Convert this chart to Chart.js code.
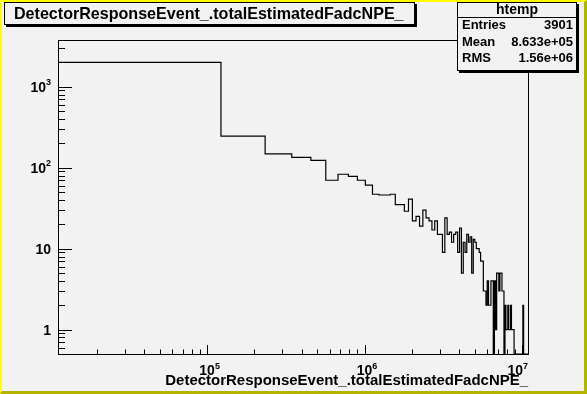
<!DOCTYPE html>
<html>
<head>
<meta charset="utf-8">
<script src="https://cdn.jsdelivr.net/npm/chart.js@4.4.1/dist/chart.umd.min.js"></script>
<style>
  html, body { margin: 0; padding: 0; background: #f2f2f2; }
  canvas { display: block; }
</style>
</head>
<body>
<div style="width:587px;height:394px"><canvas id="histCanvas" width="587" height="394"></canvas></div>
<script>
// histogram "htemp" : 100 equal bins, log x / log y
const histName = 'htemp';
const varName = 'DetectorResponseEvent_.totalEstimatedFadcNPE_';
const binLow = 1.13e4;
const binWidth = 1.112e5;
const counts = [
  2000, 246, 148, 134, 123, 70, 83, 78, 70, 61,
  47, 46, 46, 47, 35, 35, 29, 41, 22, 25,
  19, 30, 24, 22, 17, 22, 15, 15, 9, 24,
  15, 16, 12, 15, 16, 9, 18, 5, 12, 9,
  15, 12, 14, 5, 13, 12, 10, 10, 9, 7,
  7, 3, 3, 2, 4, 2, 2, 4, 4, 0,
  4, 1, 5, 5, 3, 5, 5, 3, 3, 0,
  2, 1, 1, 2, 1, 1, 2, 1, 1, 1,
  0, 0, 0, 0, 0, 0, 0, 0, 0, 0,
  0, 2, 0, 0, 0, 0, 0, 0, 0, 0
];
const statLabels = ['Entries', 'Mean', 'RMS'];
const statValues = ['3901', '8.633e+05', '1.56e+06'];
const xMin = 1.13e4;
const xMax = 1.092e7;
const yMin = 0.5;
const yMax = 3780;
const xLabelExps = [5, 6, 7];
const yLabelExps = [0, 1, 2, 3];

const points = counts.map((c, i) => ({ x: binLow + i * binWidth, y: c > 0 ? c : yMin }));
points.push({ x: binLow + counts.length * binWidth, y: points[points.length - 1].y });

const FONT = '"Liberation Sans", Arial, Helvetica, sans-serif';
const PAD = '#f2f2f2';

function fitSize(ctx, text, width) {
    ctx.font = 'bold 100px ' + FONT;
    return 100 * width / ctx.measureText(text).width;
}

// "1", "10", "10^n" label; x is the centre of the base (or its right edge)
function powLabel(ctx, exp, x, y, align, size, supSize, limit) {
    let base, sup = '';
    if (exp === 0) base = '1';
    else if (exp === 1) base = '10';
    else { base = '10'; sup = String(exp); }
    ctx.font = 'bold ' + size + 'px ' + FONT;
    const wb = ctx.measureText(base).width;
    ctx.font = 'bold ' + supSize + 'px ' + FONT;
    const ws = sup ? ctx.measureText(sup).width : 0;
    let x0 = align === 'right' ? x - wb - ws : x - wb / 2;
    if (limit && x0 + wb + ws > limit) x0 = limit - wb - ws;
    ctx.textAlign = 'left';
    ctx.font = 'bold ' + size + 'px ' + FONT;
    ctx.fillText(base, x0, y);
    if (sup) {
        ctx.font = 'bold ' + supSize + 'px ' + FONT;
        ctx.fillText(sup, x0 + wb, y - size * 0.45);
    }
}

function shadowBox(ctx, x1, y1, x2, y2) {
    ctx.fillStyle = '#000';
    ctx.fillRect(x1 + 2, y2, x2 - x1, 2);
    ctx.fillRect(x2, y1 + 2, 2, y2 - y1);
    ctx.fillStyle = PAD;
    ctx.fillRect(x1, y1, x2 - x1, y2 - y1);
    ctx.strokeStyle = '#000';
    ctx.lineWidth = 1;
    ctx.strokeRect(x1 + 0.5, y1 + 0.5, x2 - x1 - 1, y2 - y1 - 1);
}

const rootStyle = {
    id: 'rootStyle',
    beforeDraw(chart) {
        const ctx = chart.ctx;
        const W = chart.width, H = chart.height;
        ctx.save();
        ctx.fillStyle = '#ffff00';
        ctx.fillRect(0, 0, W, H);
        ctx.fillStyle = '#b4b400';
        ctx.beginPath();
        ctx.moveTo(W, 0); ctx.lineTo(W, H); ctx.lineTo(0, H);
        ctx.lineTo(2, H - 3); ctx.lineTo(W - 3, H - 3); ctx.lineTo(W - 3, 2);
        ctx.closePath();
        ctx.fill();
        ctx.fillStyle = PAD;
        ctx.fillRect(2, 2, W - 5, H - 5);
        ctx.restore();
    },
    afterDraw(chart) {
        const ctx = chart.ctx;
        const a = chart.chartArea;
        const xs = chart.scales.x, ys = chart.scales.y;
        ctx.save();
        ctx.strokeStyle = '#000';
        ctx.fillStyle = '#000';
        ctx.lineWidth = 1;
        // frame
        ctx.strokeRect(Math.round(a.left) + 0.5, Math.round(a.top) + 0.5,
            Math.round(a.right - a.left), Math.round(a.bottom - a.top));

        // y ticks (inward)
        ctx.beginPath();
        for (let e = -1; e <= 4; e++) {
            for (let m = 1; m <= 9; m++) {
                const v = m * Math.pow(10, e);
                if (v < yMin || v > yMax) continue;
                const py = Math.round(ys.getPixelForValue(v)) + 0.5;
                const len = m === 1 ? 14 : 7;
                ctx.moveTo(a.left, py);
                ctx.lineTo(a.left + len, py);
            }
        }
        // x ticks (inward)
        for (let e = 3; e <= 7; e++) {
            for (let m = 1; m <= 9; m++) {
                const v = m * Math.pow(10, e);
                if (v < xMin || v > xMax) continue;
                const px = Math.round(xs.getPixelForValue(v)) + 0.5;
                const len = m === 1 ? 9 : 4.5;
                ctx.moveTo(px, a.bottom);
                ctx.lineTo(px, a.bottom - len);
            }
        }
        ctx.stroke();

        // tick labels
        ctx.textBaseline = 'alphabetic';
        yLabelExps.forEach(e => {
            const py = ys.getPixelForValue(Math.pow(10, e));
            powLabel(ctx, e, 51, py + 5, 'right', 14, 9);
        });
        xLabelExps.forEach(e => {
            const px = xs.getPixelForValue(Math.pow(10, e));
            powLabel(ctx, e, px, 375, 'center', 14, 9, a.right);
        });

        // x axis title
        let fs = fitSize(ctx, varName, 363);
        ctx.font = 'bold ' + fs + 'px ' + FONT;
        ctx.textAlign = 'right';
        ctx.fillText(varName, a.right, 385);

        // title box
        shadowBox(ctx, 4, 2, 415, 25);
        fs = fitSize(ctx, varName, 390);
        ctx.fillStyle = '#000';
        ctx.font = 'bold ' + fs + 'px ' + FONT;
        ctx.textAlign = 'left';
        ctx.fillText(varName, 14, 19);

        // stats box
        shadowBox(ctx, 457, 2, 577, 71);
        ctx.strokeStyle = '#000';
        ctx.beginPath();
        ctx.moveTo(457, 17.5);
        ctx.lineTo(577, 17.5);
        ctx.stroke();
        ctx.fillStyle = '#000';
        ctx.font = 'bold 14px ' + FONT;
        ctx.textAlign = 'center';
        ctx.fillText(histName, 517, 14);
        ctx.font = 'bold 13px ' + FONT;
        statLabels.forEach((lab, i) => {
            const yy = 29 + i * 16.5;
            ctx.textAlign = 'left';
            ctx.fillText(lab, 462, yy);
            ctx.textAlign = 'right';
            ctx.fillText(statValues[i], 573, yy);
        });
        ctx.restore();
    }
};

new Chart(document.getElementById('histCanvas'), {
    type: 'line',
    data: {
        datasets: [{
            label: histName,
            data: points,
            stepped: 'before',
            borderColor: '#000',
            borderWidth: 1.2,
            pointRadius: 0,
            fill: false,
            tension: 0
        }]
    },
    options: {
        responsive: false,
        animation: false,
        devicePixelRatio: 1,
        layout: { padding: { left: 58, top: 40, right: 59, bottom: 40 } },
        scales: {
            x: { type: 'logarithmic', min: xMin, max: xMax, display: false },
            y: { type: 'logarithmic', min: yMin, max: yMax, display: false }
        },
        plugins: {
            legend: { display: false },
            tooltip: { enabled: false },
            title: { display: false }
        }
    },
    plugins: [rootStyle]
});
</script>
</body>
</html>
